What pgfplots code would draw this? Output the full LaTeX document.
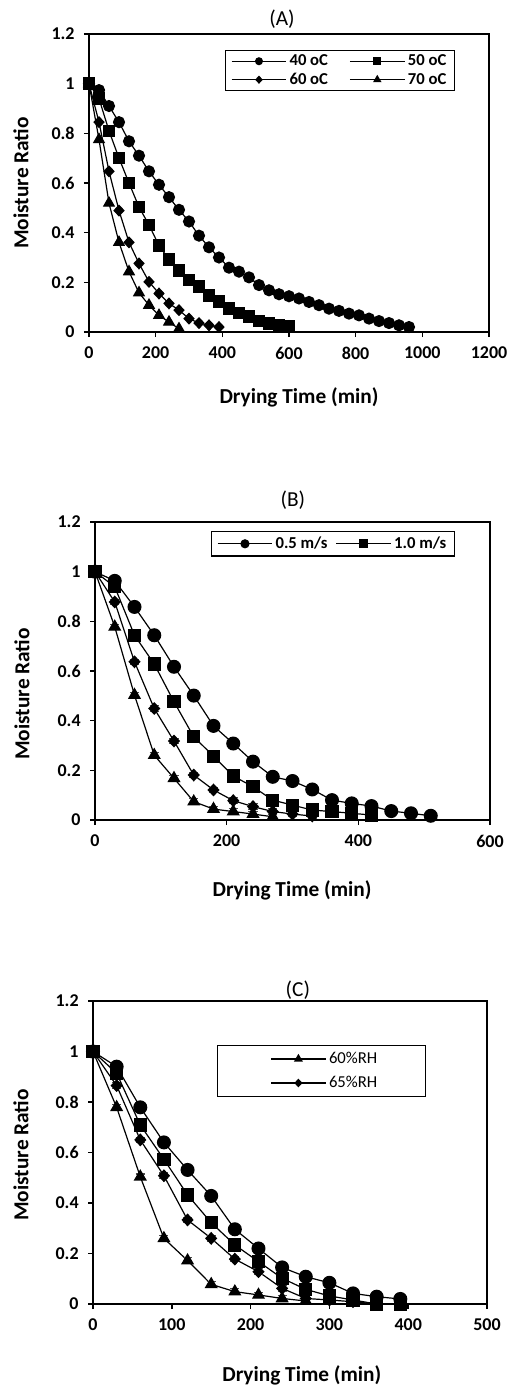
\documentclass[border=0pt]{standalone}
\usepackage{fontspec}
\setmainfont{Carlito}
\usepackage{pgfplots}
\pgfplotsset{compat=1.18}
\newcommand{\lgb}{\bfseries\fontsize{12.5}{14}\selectfont}
\newcommand{\lgr}{\fontsize{12.5}{14}\selectfont}
\pgfplotsset{
  mystyle/.style={
    scale only axis,
    axis line style={line width=1.3pt},
    tick align=outside,
    xtick pos=left, ytick pos=left,
    major tick length=3.75pt,
    tick style={line width=1.1pt, black},
    ymin=0, ymax=1.2, ytick={0,0.2,0.4,0.6,0.8,1,1.2},
    yticklabels={0,0.2,0.4,0.6,0.8,1,1.2},
    tick label style={font=\bfseries\fontsize{13.5}{16}\selectfont},
    yticklabel style={xshift=-3.5pt},
    xticklabel style={yshift=-4pt},
    /pgf/number format/assume math mode=true,
    /pgf/number format/1000 sep={},
    label style={font=\bfseries\fontsize{16}{18}\selectfont},
    every axis title shift=0pt,
    title style={font=\fontsize{16}{18}\selectfont, anchor=center},
    every axis plot/.append style={black, line width=0.9pt},
    legend cell align=left,
    legend style={draw=black, line width=1pt, font=\lgb},
    legend image code/.code={
      \draw[mark repeat=2,mark phase=2,#1,every mark/.append style={scale=0.62}]
        plot coordinates {(0pt,0pt) (20.5pt,0pt) (41pt,0pt)};
    },
  },
  errs/.style={error bars/.cd, y dir=both, y fixed=0.011,
    error bar style={gray!60!black, line width=0.7pt},
    error mark options={rotate=90, gray!60!black, mark size=3.4pt, line width=0.8pt}},
}
\begin{document}
\begin{tikzpicture}
\useasboundingbox (0,0) rectangle (381pt,-1040.25pt);
% ---------------- (A)
\begin{axis}[mystyle,
  at={(66.75pt,-249pt)}, anchor=south west,
  width=300pt, height=223.5pt,
  xmin=0, xmax=1200, xtick={0,200,400,600,800,1000,1200},
  title={(A)}, title style={at={(0.4825,1.05)}},
  xlabel={Drying Time (min)}, ylabel={Moisture Ratio},
  xlabel style={at={(axis description cs:0.525,-0.221)}, anchor=center},
  ylabel style={at={(axis description cs:-0.17,0.5)}, anchor=center},
  legend columns=2,
  legend style={at={(0.915,0.946)}, anchor=north east, inner xsep=4pt, inner ysep=1pt,
    /tikz/every even column/.append style={column sep=14pt}},
]
\addplot[mark=*, mark size=4.1pt] coordinates {
(0,1.0)(30,0.974)(60,0.91)(90,0.845)(120,0.768)(150,0.71)(180,0.647)(210,0.593)
(240,0.543)(270,0.492)(300,0.445)(330,0.388)(360,0.341)(390,0.30)(420,0.259)
(450,0.243)(480,0.22)(510,0.189)(540,0.168)(570,0.152)(600,0.144)(630,0.135)
(660,0.121)(690,0.108)(720,0.094)(750,0.085)(780,0.074)(810,0.067)(840,0.054)
(870,0.044)(900,0.036)(930,0.027)(960,0.02)};
\addlegendentry{\lgb 40 oC}
\addplot[mark=square*, mark size=4.3pt] coordinates {
(0,1.0)(30,0.94)(60,0.81)(90,0.70)(120,0.60)(150,0.503)(180,0.431)(210,0.348)
(240,0.292)(270,0.247)(300,0.209)(330,0.182)(360,0.148)(390,0.124)(420,0.094)
(450,0.077)(480,0.063)(510,0.044)(540,0.034)(570,0.027)(600,0.023)};
\addlegendentry{\lgb 50 oC}
\addplot[mark=diamond*, mark size=3.9pt, mark options={xscale=1.25}] coordinates {
(0,1.0)(30,0.845)(60,0.647)(90,0.489)(120,0.361)(150,0.276)(180,0.202)(210,0.155)
(240,0.115)(270,0.088)(300,0.054)(330,0.036)(360,0.027)(390,0.02)};
\addlegendentry{\lgb 60 oC}
\addplot[mark=triangle*, mark size=4.5pt] coordinates {
(0,1.0)(30,0.775)(60,0.519)(90,0.361)(120,0.243)(150,0.158)(180,0.108)(210,0.067)
(240,0.04)(270,0.013)};
\addlegendentry{\lgb 70 oC}
\end{axis}
% ---------------- (B)
\begin{axis}[mystyle,
  at={(71.25pt,-615pt)}, anchor=south west,
  width=296.25pt, height=223.5pt,
  xmin=0, xmax=600, xtick={0,200,400,600},
  title={(B)}, title style={at={(0.501,1.074)}},
  xlabel={Drying Time (min)}, ylabel={Moisture Ratio},
  xlabel style={at={(axis description cs:0.499,-0.235)}, anchor=center},
  ylabel style={at={(axis description cs:-0.185,0.423)}, anchor=center},
  legend columns=2,
  legend style={at={(0.911,0.970)}, anchor=north east, inner xsep=4pt, inner ysep=2pt,
    /tikz/every even column/.append style={column sep=4pt}},
]
\addplot[mark=*, mark size=4.8pt, errs] coordinates {
(0,1.0)(30,0.963)(60,0.858)(90,0.744)(120,0.617)(150,0.501)(180,0.379)(210,0.308)
(240,0.235)(270,0.174)(300,0.157)(330,0.123)(360,0.080)(390,0.067)(420,0.056)
(450,0.036)(480,0.027)(510,0.017)};
\addlegendentry{\lgb 0.5 m/s}
\addplot[mark=square*, mark size=4.5pt, errs] coordinates {
(0,1.0)(30,0.939)(60,0.744)(90,0.628)(120,0.476)(150,0.335)(180,0.257)(210,0.177)
(240,0.134)(270,0.080)(300,0.060)(330,0.040)(360,0.034)(390,0.027)(420,0.020)};
\addlegendentry{\lgb 1.0 m/s}
\addplot[forget plot, mark=diamond*, mark size=4.2pt, mark options={xscale=1.25}, errs] coordinates {
(0,1.0)(30,0.878)(60,0.637)(90,0.449)(120,0.318)(150,0.181)(180,0.121)(210,0.078)
(240,0.054)(270,0.034)(300,0.024)(330,0.016)};
\addplot[forget plot, mark=triangle*, mark size=4.8pt, errs] coordinates {
(0,1.0)(30,0.778)(60,0.503)(90,0.261)(120,0.168)(150,0.074)(180,0.044)(210,0.034)
(240,0.024)(270,0.013)};
\end{axis}
% ---------------- (C)
\begin{axis}[mystyle,
  at={(69.75pt,-978pt)}, anchor=south west,
  width=295.5pt, height=227.25pt,
  xmin=0, xmax=500, xtick={0,100,200,300,400,500},
  title={(C)}, title style={at={(0.52,1.036)}},
  xlabel={Drying Time (min)}, ylabel={Moisture Ratio},
  xlabel style={at={(axis description cs:0.53,-0.234)}, anchor=center},
  ylabel style={at={(axis description cs:-0.183,0.492)}, anchor=center},
  legend columns=1,
  legend style={at={(0.845,0.855)}, anchor=north east, inner xsep=2pt, inner ysep=3pt,
    font=\lgr, row sep=4pt},
  legend image code/.code={
    \path[draw=none] (-38pt,0pt) -- (0pt,0pt);
    \draw[mark repeat=2,mark phase=2,#1,every mark/.append style={scale=0.62}]
      plot coordinates {(0pt,0pt) (20.5pt,0pt) (41pt,0pt)};
  },
]
\addplot[mark=triangle*, mark size=4.8pt, errs] coordinates {
(0,1.0)(30,0.779)(60,0.504)(90,0.26)(120,0.172)(150,0.078)(180,0.049)(210,0.036)
(240,0.022)(270,0.012)};
\addlegendentry{\lgr 60\%RH\hspace*{32pt}}
\addplot[mark=diamond*, mark size=4.2pt, mark options={xscale=1.25}, errs] coordinates {
(0,1.0)(30,0.865)(60,0.65)(90,0.508)(120,0.333)(150,0.26)(180,0.178)(210,0.128)
(240,0.062)(270,0.022)(300,0.016)(330,0.009)(360,0.0)(390,0.0)};
\addlegendentry{\lgr 65\%RH\hspace*{32pt}}
\addplot[forget plot, mark=*, mark size=4.8pt, errs] coordinates {
(0,1.0)(30,0.94)(60,0.779)(90,0.64)(120,0.531)(150,0.428)(180,0.296)(210,0.220)
(240,0.145)(270,0.108)(300,0.084)(330,0.042)(360,0.029)(390,0.020)};
\addplot[forget plot, mark=square*, mark size=4.5pt, errs] coordinates {
(0,1.0)(30,0.914)(60,0.709)(90,0.573)(120,0.432)(150,0.322)(180,0.234)(210,0.168)
(240,0.102)(270,0.058)(300,0.032)(330,0.016)(360,0.0)(390,0.0)};
\end{axis}
\end{tikzpicture}
\end{document}
